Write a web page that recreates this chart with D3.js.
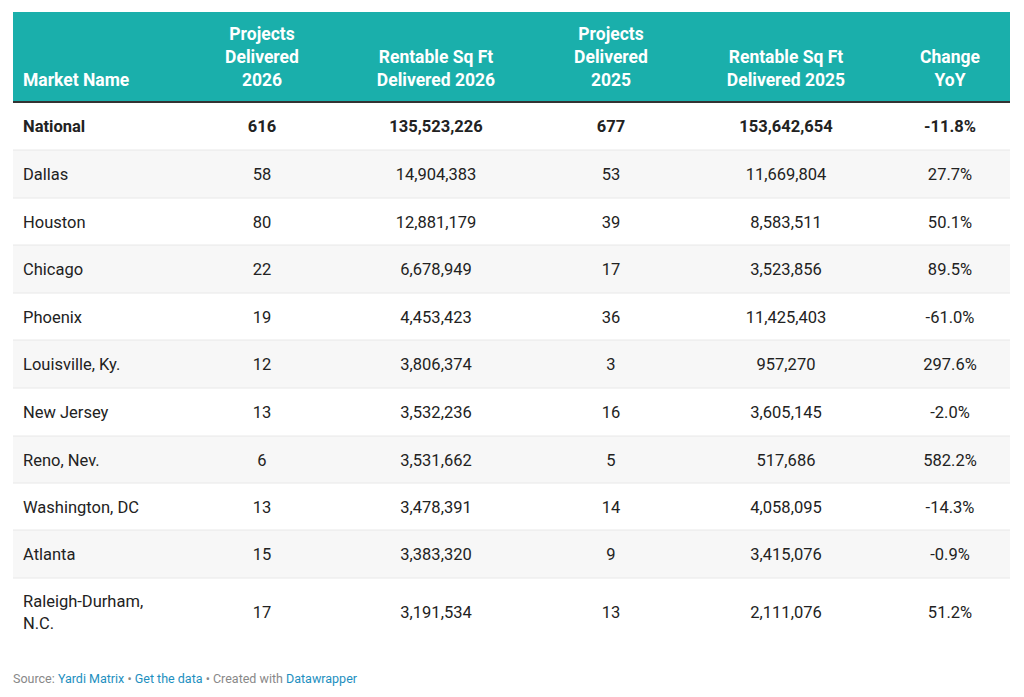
<!DOCTYPE html>
<html><head><meta charset="utf-8">
<script src="https://cdn.jsdelivr.net/npm/d3@7"></script>
<style>body{margin:0;background:#fff}svg{font-family:Roboto,sans-serif}</style>
</head><body><svg id="c" width="1024" height="697"></svg>
<script>
const headers=[["Market Name"],["Projects","Delivered","2026"],["Rentable Sq Ft","Delivered 2026"],["Projects","Delivered","2025"],["Rentable Sq Ft","Delivered 2025"],["Change","YoY"]];
const markets=["National","Dallas","Houston","Chicago","Phoenix","Louisville, Ky.","New Jersey","Reno, Nev.","Washington, DC","Atlanta","Raleigh-Durham, N.C."];
const projects2026=[616,58,80,22,19,12,13,6,13,15,17];
const sqft2026=[135523226,14904383,12881179,6678949,4453423,3806374,3532236,3531662,3478391,3383320,3191534];
const projects2025=[677,53,39,17,36,3,16,5,14,9,13];
const sqft2025=[153642654,11669804,8583511,3523856,11425403,957270,3605145,517686,4058095,3415076,2111076];
const changeYoY=[-11.8,27.7,50.1,89.5,-61.0,297.6,-2.0,582.2,-14.3,-0.9,51.2];

const svg=d3.select("#c");
const L=13,R=1010,hTop=12,hBot=102;
const colX=[23,262,436,611,786,950];
const rowTops=[102,150,198,245,293,340,388,436,483,530,578,645];
const fmt=d3.format(",");
svg.append("rect").attr("x",L).attr("y",hTop).attr("width",R-L).attr("height",hBot-hTop).attr("fill","#1aafab");
headers.forEach((h,i)=>{
  const t=svg.append("text").attr("x",colX[i]).attr("fill","#fff").attr("font-weight",700).attr("font-size",17.5)
    .attr("text-anchor",i==0?"start":"middle");
  h.forEach((line,j)=>t.append("tspan").attr("x",colX[i]).attr("y",86-(h.length-1-j)*23).text(line));
});
markets.forEach((m,r)=>{
  const y0=rowTops[r],y1=rowTops[r+1];
  if(r%2==1) svg.append("rect").attr("x",L).attr("y",y0).attr("width",R-L).attr("height",y1-y0).attr("fill","#f7f7f7");
  if(r>0) svg.append("line").attr("x1",L).attr("x2",R).attr("y1",y0).attr("y2",y0).attr("stroke","#e8e8e8");
  const cy=(y0+y1)/2+6;
  const vals=[m,projects2026[r],fmt(sqft2026[r]),projects2025[r],fmt(sqft2025[r]),changeYoY[r].toFixed(1)+"%"];
  vals.forEach((v,i)=>{
    const t=svg.append("text").attr("x",colX[i]).attr("y",cy).attr("fill","#222").attr("font-size",16.5)
      .attr("font-weight",r==0?700:400).attr("text-anchor",i==0?"start":"middle");
    if(i==0 && m.includes(", N.C.")){
      t.append("tspan").attr("x",colX[0]).attr("y",cy-11).text("Raleigh-Durham,");
      t.append("tspan").attr("x",colX[0]).attr("y",cy+11).text("N.C.");
    } else t.text(v);
  });
});
svg.append("rect").attr("x",L).attr("y",hBot-1).attr("width",R-L).attr("height",2).attr("fill","#333");
const f=svg.append("text").attr("x",13).attr("y",683).attr("font-size",12.5).attr("fill","#888");
f.append("tspan").text("Source: ");
f.append("tspan").attr("fill","#1d8fc0").text("Yardi Matrix");
f.append("tspan").text(" • ");
f.append("tspan").attr("fill","#1d8fc0").text("Get the data");
f.append("tspan").text(" • Created with ");
f.append("tspan").attr("fill","#1d8fc0").text("Datawrapper");
</script></body></html>
